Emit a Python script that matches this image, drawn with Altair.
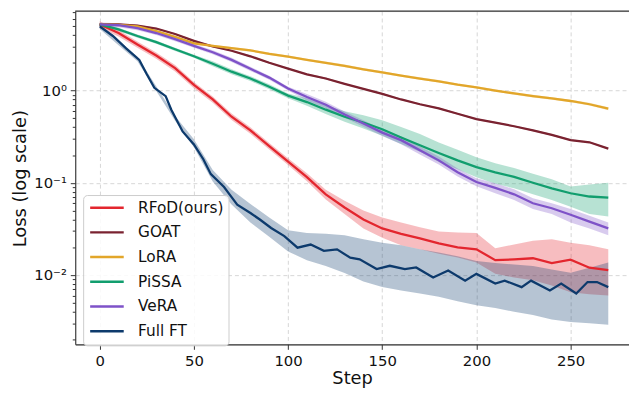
import altair as alt
import pandas as pd

series_names = ["RFoD(ours)", "GOAT", "LoRA", "PiSSA", "VeRA", "Full FT"]
colors = ["#e3262e", "#7a2230", "#e2a62a", "#119e6e", "#7e52c8", "#0d3a6c"]

grid_steps = list(range(0, 271, 10))

rfod_loss = [5.2, 4.2, 3.15, 2.4, 1.75, 1.15, 0.8, 0.52, 0.37, 0.25, 0.17, 0.115, 0.075, 0.054,
             0.04, 0.032, 0.028, 0.025, 0.022, 0.02, 0.019, 0.0145, 0.0148, 0.0152, 0.0135, 0.0147, 0.012, 0.0113]
goat_loss = [5.25, 5.2, 5.05, 4.7, 4.1, 3.45, 3.0, 2.7, 2.35, 2.0, 1.73, 1.5, 1.35, 1.18, 1.04,
             0.92, 0.8, 0.71, 0.64, 0.56, 0.49, 0.45, 0.41, 0.37, 0.33, 0.29, 0.275, 0.235]
lora_loss = [5.2, 5.15, 4.95, 4.4, 3.82, 3.25, 3.05, 2.88, 2.72, 2.5, 2.33, 2.15, 2.0, 1.85, 1.7,
             1.57, 1.45, 1.35, 1.26, 1.16, 1.08, 1.0, 0.93, 0.87, 0.82, 0.77, 0.71, 0.635]
pissa_loss = [5.2, 4.6, 3.9, 3.35, 2.8, 2.35, 1.95, 1.6, 1.35, 1.1, 0.88, 0.75, 0.62, 0.52, 0.45,
              0.38, 0.31, 0.255, 0.21, 0.175, 0.148, 0.13, 0.116, 0.1, 0.087, 0.077, 0.071, 0.069]
vera_loss = [5.2, 5.1, 4.75, 4.2, 3.6, 3.05, 2.6, 2.15, 1.72, 1.38, 1.05, 0.85, 0.7, 0.55, 0.44,
             0.35, 0.29, 0.225, 0.175, 0.13, 0.102, 0.088, 0.075, 0.06, 0.053, 0.045, 0.038, 0.032]
fullft_steps = [0, 7, 14, 21, 25, 29, 35, 38, 44, 50, 55, 59, 66, 70, 73, 80, 85, 91, 98, 105,
                112, 119, 126, 133, 138, 147, 154, 162, 168, 177, 185, 194, 200, 210, 215, 224,
                229, 239, 245, 253, 259, 264, 270]
fullft_loss = [4.95, 3.9, 2.86, 2.15, 1.5, 1.07, 0.87, 0.62, 0.36, 0.26, 0.18, 0.124, 0.09, 0.07,
               0.058, 0.047, 0.04, 0.0324, 0.0264, 0.0198, 0.0214, 0.0183, 0.019, 0.0154, 0.0148,
               0.0116, 0.0126, 0.0116, 0.0121, 0.0094, 0.0112, 0.0087, 0.0103, 0.0081, 0.0087,
               0.0074, 0.0087, 0.0068, 0.0081, 0.0063, 0.0084, 0.0084, 0.0074]

# shaded bands (lower / upper), read on grid_steps
rfod_lo = [4.78, 3.86, 2.9, 2.21, 1.61, 1.06, 0.736, 0.478, 0.34, 0.23, 0.156, 0.104, 0.066, 0.046,
           0.032, 0.0253, 0.021, 0.019, 0.017, 0.0155, 0.0137, 0.0103, 0.0094, 0.0088, 0.0077, 0.0065, 0.0062, 0.006]
rfod_hi = [5.62, 4.54, 3.4, 2.59, 1.89, 1.24, 0.864, 0.562, 0.4, 0.27, 0.184, 0.127, 0.084, 0.064,
           0.05, 0.042, 0.037, 0.033, 0.0296, 0.029, 0.0285, 0.0195, 0.0214, 0.0235, 0.0244, 0.0224, 0.021, 0.019]
goat_lo = [5.15, 5.1, 4.95, 4.61, 4.02, 3.38, 2.94, 2.65, 2.3, 1.96, 1.7, 1.47, 1.32, 1.16, 1.02,
           0.9, 0.784, 0.696, 0.627, 0.549, 0.48, 0.441, 0.402, 0.363, 0.323, 0.284, 0.27, 0.23]
goat_hi = [5.36, 5.3, 5.15, 4.79, 4.18, 3.52, 3.06, 2.75, 2.4, 2.04, 1.76, 1.53, 1.38, 1.2, 1.06,
           0.94, 0.816, 0.724, 0.653, 0.571, 0.5, 0.459, 0.418, 0.377, 0.337, 0.296, 0.28, 0.24]
lora_lo = [5.04, 5.0, 4.8, 4.27, 3.71, 3.15, 2.96, 2.79, 2.64, 2.43, 2.26, 2.09, 1.94, 1.79, 1.65,
           1.52, 1.41, 1.31, 1.22, 1.13, 1.05, 0.97, 0.9, 0.84, 0.795, 0.745, 0.69, 0.61]
lora_hi = [5.36, 5.3, 5.1, 4.53, 3.93, 3.35, 3.14, 2.97, 2.8, 2.58, 2.4, 2.21, 2.06, 1.91, 1.75,
           1.62, 1.49, 1.39, 1.3, 1.19, 1.11, 1.03, 0.96, 0.9, 0.845, 0.795, 0.735, 0.66]
pissa_lo = [4.99, 4.42, 3.74, 3.22, 2.69, 2.26, 1.83, 1.5, 1.27, 1.03, 0.827, 0.683, 0.558, 0.458,
            0.387, 0.323, 0.264, 0.217, 0.168, 0.14, 0.115, 0.0975, 0.087, 0.075, 0.065, 0.055, 0.046, 0.043]
pissa_hi = [5.41, 4.78, 4.06, 3.48, 2.91, 2.44, 2.07, 1.7, 1.43, 1.17, 0.93, 0.825, 0.694, 0.598,
            0.54, 0.475, 0.403, 0.337, 0.273, 0.228, 0.189, 0.163, 0.145, 0.125, 0.109, 0.091, 0.096, 0.1]
vera_lo = [4.94, 4.85, 4.51, 3.99, 3.42, 2.9, 2.47, 2.04, 1.63, 1.31, 1.0, 0.782, 0.644, 0.506,
           0.405, 0.322, 0.261, 0.203, 0.158, 0.117, 0.092, 0.077, 0.065, 0.052, 0.046, 0.037, 0.032, 0.027]
vera_hi = [5.46, 5.36, 4.99, 4.41, 3.78, 3.2, 2.73, 2.26, 1.81, 1.45, 1.1, 0.918, 0.756, 0.594,
           0.475, 0.378, 0.319, 0.248, 0.193, 0.143, 0.112, 0.099, 0.085, 0.068, 0.06, 0.052, 0.044, 0.037]
fullft_lo = [4.65, 3.1, 2.07, 0.99, 0.47, 0.243, 0.103, 0.058, 0.037, 0.026, 0.018, 0.0145, 0.0125,
             0.0105, 0.0085, 0.0074, 0.0068, 0.0063, 0.0058, 0.0052, 0.0047, 0.0044, 0.004, 0.0037,
             0.0033, 0.0031, 0.003, 0.0029]
fullft_hi = [5.25, 3.5, 2.33, 1.11, 0.53, 0.297, 0.138, 0.084, 0.059, 0.042, 0.0305, 0.0285, 0.028,
             0.027, 0.0245, 0.0224, 0.021, 0.019, 0.0175, 0.016, 0.0142, 0.0135, 0.013, 0.0125,
             0.0115, 0.0106, 0.012, 0.0137]

x_ticks = [0, 50, 100, 150, 200, 250]
y_ticks = [0.002, 0.003, 0.004, 0.005, 0.006, 0.007, 0.008, 0.009, 0.01,
           0.02, 0.03, 0.04, 0.05, 0.06, 0.07, 0.08, 0.09, 0.1,
           0.2, 0.3, 0.4, 0.5, 0.6, 0.7, 0.8, 0.9, 1,
           2, 3, 4, 5, 6, 7]

line_rows = []
for name, steps, vals in [
    ("RFoD(ours)", grid_steps, rfod_loss),
    ("GOAT", grid_steps, goat_loss),
    ("LoRA", grid_steps, lora_loss),
    ("PiSSA", grid_steps, pissa_loss),
    ("VeRA", grid_steps, vera_loss),
    ("Full FT", fullft_steps, fullft_loss),
]:
    for s, v in zip(steps, vals):
        line_rows.append({"series": name, "step": s, "loss": v})
line_df = pd.DataFrame(line_rows)

band_rows = []
for name, lo, hi in [
    ("RFoD(ours)", rfod_lo, rfod_hi),
    ("GOAT", goat_lo, goat_hi),
    ("LoRA", lora_lo, lora_hi),
    ("PiSSA", pissa_lo, pissa_hi),
    ("VeRA", vera_lo, vera_hi),
    ("Full FT", fullft_lo, fullft_hi),
]:
    for s, a, b in zip(grid_steps, lo, hi):
        band_rows.append({"series": name, "step": s, "lo": a, "hi": b})
band_df = pd.DataFrame(band_rows)

FONT = "DejaVu Sans"
W, H = 560, 337

x_scale = alt.Scale(domain=[-13, 281], nice=False, zero=False)
y_scale = alt.Scale(type="log", domain=[0.001773, 7.256], nice=False)

major_test = "datum.value == 1 || datum.value == 0.1 || datum.value == 0.01"

x_axis = alt.Axis(
    values=x_ticks, title="Step", grid=True, gridDash=[4, 3], gridColor="#cccccc", gridWidth=0.8,
    domainColor="#333333", domainWidth=1.1, tickColor="#333333", tickSize=5, tickWidth=1,
    labelPadding=4, labelFontSize=15, labelFont=FONT, labelColor="#111111", labelFlush=False,
    titleFont=FONT, titleFontSize=18, titleFontWeight="normal", titleColor="#111111",
    titleY=40, titleBaseline="alphabetic",
)
y_axis = alt.Axis(
    values=y_ticks, title="Loss (log scale)", grid=True, gridDash=[4, 3], gridColor="#cccccc",
    gridWidth=0.8, gridOpacity={"condition": {"test": major_test, "value": 1}, "value": 0},
    domainColor="#333333", domainWidth=1.1, tickColor="#333333",
    tickSize={"condition": {"test": major_test, "value": 5}, "value": 3}, tickWidth=1,
    labelExpr="datum.value == 1 ? '10⁰' : datum.value == 0.1 ? '10⁻¹' : datum.value == 0.01 ? '10⁻²' : ''",
    labelOverlap=False, labelPadding=4, labelFontSize=15, labelFont=FONT, labelColor="#111111",
    labelFlush=False,
    titleFont=FONT, titleFontSize=18, titleFontWeight="normal", titleColor="#111111",
    titleX=-50, titleY=169, titleBaseline="alphabetic", titleAngle=270,
)

# fill scale listed in reverse order so its legend (disabled) is not merged with the line legend
bands = alt.Chart(band_df).mark_area(opacity=0.3, clip=True).encode(
    x=alt.X("step:Q", scale=x_scale, axis=x_axis),
    y=alt.Y("lo:Q", scale=y_scale, axis=y_axis),
    y2="hi:Q",
    fill=alt.Fill("series:N", scale=alt.Scale(domain=series_names[::-1], range=colors[::-1]),
                  legend=None),
    detail="series:N",
)

lines = alt.Chart(line_df).mark_line(strokeWidth=2.3, clip=True).encode(
    x=alt.X("step:Q", scale=x_scale),
    y=alt.Y("loss:Q", scale=y_scale),
    color=alt.Color(
        "series:N",
        scale=alt.Scale(domain=series_names, range=colors),
        legend=alt.Legend(
            title=None, orient="none", legendX=8, legendY=186,
            symbolType="M-1,0L5,0", symbolSize=128, symbolStrokeWidth=2.5,
            labelFontSize=15.5, labelFont=FONT, labelColor="#111111", labelOffset=35,
            rowPadding=8, padding=5, fillColor="rgba(255,255,255,0.85)",
            strokeColor="#cccccc", cornerRadius=4,
        ),
    ),
)

top_spine = alt.Chart(pd.DataFrame({"k": [0]})).mark_rule(color="#333333", strokeWidth=1.1).encode(
    x=alt.value(0), x2=alt.value(W), y=alt.value(0)
)

chart = alt.layer(bands, lines, top_spine).properties(
    width=W, height=H,
    padding={"left": 68, "top": 1, "right": 0, "bottom": 44},
    autosize=alt.AutoSizeParams(type="none"),
).configure_view(stroke=None).configure(background="white")

chart.save("out.html", embed_options={"renderer": "svg", "actions": False})
